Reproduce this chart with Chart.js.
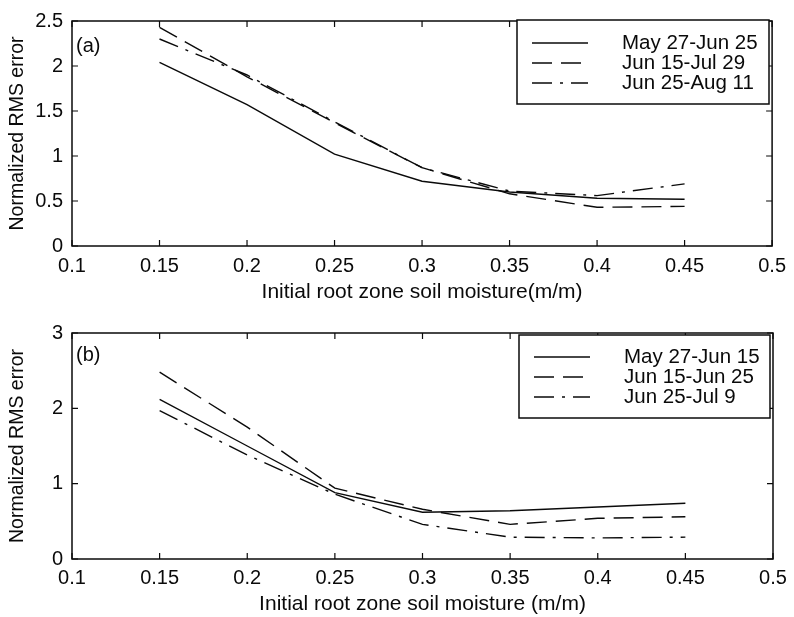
<!DOCTYPE html>
<html>
<head>
<meta charset="utf-8">
<script src="https://cdn.jsdelivr.net/npm/chart.js@4/dist/chart.umd.min.js"></script>
<style>
  html, body { margin: 0; padding: 0; background: #fff; }
  #wrap { position: relative; width: 794px; height: 617px; }
  #chartA { position: absolute; left: 0; top: 0; }
  #chartB { position: absolute; left: 0; top: 308px; }
</style>
</head>
<body>
<div id="wrap">
  <canvas id="chartA" width="794" height="308"></canvas>
  <canvas id="chartB" width="794" height="309"></canvas>
</div>
<script>
"use strict";

// x positions (initial root zone soil moisture, m/m)
const moisture = [0.15, 0.2, 0.25, 0.3, 0.35, 0.4, 0.45];
const xTicks = [0.1, 0.15, 0.2, 0.25, 0.3, 0.35, 0.4, 0.45, 0.5];

// panel (a)
const labelsA = ['May 27-Jun 25', 'Jun 15-Jul 29', 'Jun 25-Aug 11'];
const rmsA1 = [2.04, 1.57, 1.02, 0.72, 0.60, 0.53, 0.52];
const rmsA2 = [2.43, 1.88, 1.37, 0.87, 0.58, 0.43, 0.44];
const rmsA3 = [2.30, 1.90, 1.38, 0.87, 0.61, 0.56, 0.69];
const yTicksA = [0, 0.5, 1, 1.5, 2, 2.5];

// panel (b)
const labelsB = ['May 27-Jun 15', 'Jun 15-Jun 25', 'Jun 25-Jul 9'];
const rmsB1 = [2.12, 1.50, 0.88, 0.62, 0.64, 0.69, 0.74];
const rmsB2 = [2.48, 1.75, 0.94, 0.66, 0.46, 0.54, 0.56];
const rmsB3 = [1.97, 1.38, 0.86, 0.46, 0.29, 0.28, 0.29];
const yTicksB = [0, 1, 2, 3];

const INK = '#0a0a0a';
const FONT = "'Liberation Sans', Arial, sans-serif";
const dashes = [[], [20, 9], [20, 8, 3, 8]];

function fmt(v) {
    return String(Number(v.toFixed(2)));
}

function makeSets(labels, series) {
    return series.map((vals, i) => ({
        label: labels[i],
        data: moisture.map((x, j) => ({ x: x, y: vals[j] })),
        borderColor: INK,
        borderWidth: 1.4,
        borderDash: dashes[i],
        pointRadius: 0,
        fill: false,
        tension: 0
    }));
}

// frame, inward ticks on all sides, legend box and panel tag
const matlabFrame = {
    id: 'matlabFrame',
    afterDraw(chart, args, opts) {
        const { ctx, chartArea: a, scales } = chart;
        ctx.save();
        ctx.strokeStyle = INK;
        ctx.lineWidth = 1.5;
        ctx.strokeRect(a.left, a.top, a.right - a.left, a.bottom - a.top);

        const tl = 6;
        ctx.lineWidth = 1.2;
        ctx.beginPath();
        scales.x.ticks.forEach(t => {
            const px = scales.x.getPixelForValue(t.value);
            ctx.moveTo(px, a.bottom); ctx.lineTo(px, a.bottom - tl);
            ctx.moveTo(px, a.top); ctx.lineTo(px, a.top + tl);
        });
        scales.y.ticks.forEach(t => {
            const py = scales.y.getPixelForValue(t.value);
            ctx.moveTo(a.left, py); ctx.lineTo(a.left + tl, py);
            ctx.moveTo(a.right, py); ctx.lineTo(a.right - tl, py);
        });
        ctx.stroke();

        // panel tag
        ctx.fillStyle = INK;
        ctx.font = '20px ' + FONT;
        ctx.textBaseline = 'middle';
        ctx.textAlign = 'left';
        ctx.fillText(opts.tag, a.left + 4, a.top + opts.tagDy);

        // legend
        const b = opts.box;
        ctx.fillStyle = '#fff';
        ctx.fillRect(b.x, b.y, b.w, b.h);
        ctx.lineWidth = 1.5;
        ctx.strokeRect(b.x, b.y, b.w, b.h);
        ctx.font = '20.5px ' + FONT;
        chart.data.datasets.forEach((ds, i) => {
            const y = b.y + b.first + i * b.step;
            ctx.beginPath();
            ctx.setLineDash(ds.borderDash);
            ctx.lineWidth = 1.4;
            ctx.moveTo(b.x + 15, y);
            ctx.lineTo(b.x + 71, y);
            ctx.stroke();
            ctx.setLineDash([]);
            ctx.fillStyle = INK;
            ctx.fillText(ds.label, b.x + 105, y);
        });
        ctx.restore();
    }
};

function buildChart(id, sets, yTicks, yMax, geo) {
    return new Chart(document.getElementById(id), {
        type: 'line',
        data: { datasets: sets },
        plugins: [matlabFrame],
        options: {
            responsive: false,
            animation: false,
            layout: { padding: { left: 0, top: geo.top, right: 21, bottom: 0 } },
            plugins: {
                legend: { display: false },
                tooltip: { enabled: false },
                matlabFrame: geo.frame
            },
            scales: {
                x: {
                    type: 'linear',
                    min: 0.1,
                    max: 0.5,
                    afterBuildTicks: s => { s.ticks = xTicks.map(v => ({ value: v })); },
                    afterFit: s => { s.height = geo.xHeight; },
                    grid: { display: false, drawTicks: false },
                    border: { display: false },
                    ticks: {
                        color: INK,
                        padding: geo.xPad,
                        maxRotation: 0,
                        autoSkip: false,
                        font: { family: FONT, size: 20 },
                        callback: v => fmt(v)
                    },
                    title: {
                        display: true,
                        text: geo.xTitle,
                        color: INK,
                        font: { family: FONT, size: 21 },
                        padding: { top: 0, bottom: geo.titlePad }
                    }
                },
                y: {
                    type: 'linear',
                    min: 0,
                    max: yMax,
                    afterBuildTicks: s => { s.ticks = yTicks.map(v => ({ value: v })); },
                    afterFit: s => { s.width = 72; },
                    grid: { display: false, drawTicks: false },
                    border: { display: false },
                    ticks: {
                        color: INK,
                        padding: 9,
                        autoSkip: false,
                        font: { family: FONT, size: 20 },
                        callback: v => fmt(v)
                    },
                    title: {
                        display: true,
                        text: 'Normalized RMS error',
                        color: INK,
                        font: { family: FONT, size: 19.5 },
                        padding: { top: 6, bottom: 0 }
                    }
                }
            }
        }
    });
}

buildChart('chartA', makeSets(labelsA, [rmsA1, rmsA2, rmsA3]), yTicksA, 2.5, {
    top: 18, xHeight: 62, xPad: 8, titlePad: 3,
    xTitle: 'Initial root zone soil moisture(m/m)',
    frame: { tag: '(a)', tagDy: 25, box: { x: 517, y: 20, w: 252, h: 84, first: 23, step: 20 } }
});

buildChart('chartB', makeSets(labelsB, [rmsB1, rmsB2, rmsB3]), yTicksB, 3, {
    top: 25, xHeight: 58, xPad: 7, titlePad: 0,
    xTitle: 'Initial root zone soil moisture (m/m)',
    frame: { tag: '(b)', tagDy: 22, box: { x: 519, y: 27, w: 251, h: 83, first: 22, step: 20 } }
});
</script>
</body>
</html>
